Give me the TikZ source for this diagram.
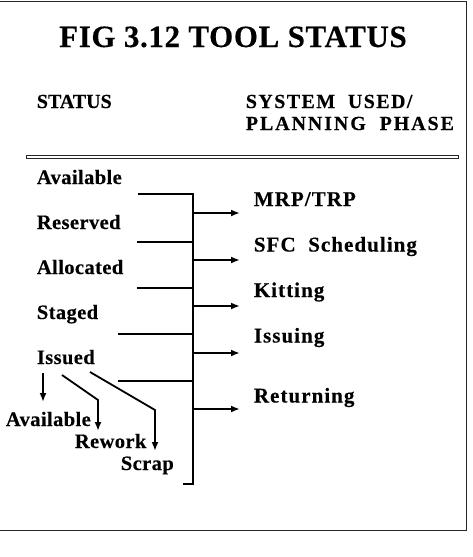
\documentclass[tikz,border=0pt]{standalone}
\usepackage{fontspec}
\setmainfont{Liberation Serif}
\usepackage{tikz}
\usetikzlibrary{arrows.meta,positioning}

\newcommand{\track}[1]{\addfontfeature{LetterSpace=#1,FakeBold=0.3}}

\begin{document}
\begin{tikzpicture}[x=1pt, y=-1pt, >={Latex[length=9pt,width=7pt]}, line width=1.8pt]
			\tikzstyle{title} = [anchor=base, inner sep=0pt, font=\fontsize{31}{35}\selectfont\bfseries\track{2}]
			\tikzstyle{head} = [anchor=base west, inner sep=0pt, font=\fontsize{20}{24}\selectfont\bfseries\track{0}]
			\tikzstyle{stat} = [anchor=base west, inner sep=0pt, font=\fontsize{20.5}{24}\selectfont\bfseries\track{2}]
			\tikzstyle{phase} = [anchor=base west, inner sep=0pt, font=\fontsize{21}{24}\selectfont\bfseries\track{5}]
			\tikzstyle{frame} = [line width=0.8pt, black!85]

			\useasboundingbox (0,0) rectangle (472,557);

			% frame and rule
			\draw[frame] (0,1) -- (466,1) -- (466,530) -- (0,530);
			\draw[frame] (26,155) rectangle (458,158);

			% headings
			\node[title] (fig) at (233,47) {FIG 3.12 TOOL STATUS};
			\node[head] (status) at (36,108) {STATUS};
			\node[head, font=\fontsize{20}{24}\selectfont\bfseries\track{7}] (sysused) at (245,108) {SYSTEM\ \ USED/};
			\node[head, font=\fontsize{20}{24}\selectfont\bfseries\track{9.5}] (planning) at (245,130) {PLANNING\ \ PHASE};

			% status column
			\node[stat] (available) at (36,184) {Available};
			\node[stat, below=45pt of available.base west, anchor=base west] (reserved) {Reserved};
			\node[stat, below=45pt of reserved.base west, anchor=base west] (allocated) {Allocated};
			\node[stat, below=45pt of allocated.base west, anchor=base west] (staged) {Staged};
			\node[stat, below=45pt of staged.base west, anchor=base west] (issued) {Issued};

			% after issue
			\node[stat] (back) at (5,426) {Available};
			\node[stat] (rework) at (74,448) {Rework};
			\node[stat] (scrap) at (120,470) {Scrap};

			% system used column
			\node[phase] (mrp) at (253,206) {MRP/TRP};
			\node[phase, below=45.5pt of mrp.base west, anchor=base west] (sfc) {SFC\ \ Scheduling};
			\node[phase, below=45.5pt of sfc.base west, anchor=base west] (kitting) {Kitting};
			\node[phase, below=45.5pt of kitting.base west, anchor=base west] (issuing) {Issuing};
			\node[phase, below=60pt of issuing.base west, anchor=base west] (returning) {Returning};

			% bus
			\coordinate (bustop) at (193,194);
			\coordinate (busend) at (193,484);
			\coordinate (foot) at (183,484);
			\coordinate (in1) at (138,194);
			\coordinate (in2) at (137,242);
			\coordinate (in3) at (137,288);
			\coordinate (in4) at (118,334);
			\coordinate (in5) at (118,381);
			\coordinate (out1) at (240,213);
			\coordinate (out2) at (240,260);
			\coordinate (out3) at (240,306);
			\coordinate (out4) at (240,353);
			\coordinate (out5) at (240,409);

			\draw (in1) -- (bustop) -- (busend) -- (foot);
			\foreach \i in {2,...,5}
				\draw (in\i) -- (in\i -| bustop);
			\foreach \i in {1,...,5}
				\draw[->] (out\i -| bustop) -- (out\i);

			% issued splits
			\coordinate (a1) at (43,373);
			\coordinate (a2) at (43,402);
			\coordinate (r1) at (62,375);
			\coordinate (r2) at (98,400);
			\coordinate (r3) at (98,431);
			\coordinate (s1) at (90,372);
			\coordinate (s2) at (155,410);
			\coordinate (s3) at (155,451);

			\draw[->] (a1) -- (a2);
			\draw[->] (r1) -- (r2) -- (r3);
			\draw[->] (s1) -- (s2) -- (s3);
\end{tikzpicture}
\end{document}
